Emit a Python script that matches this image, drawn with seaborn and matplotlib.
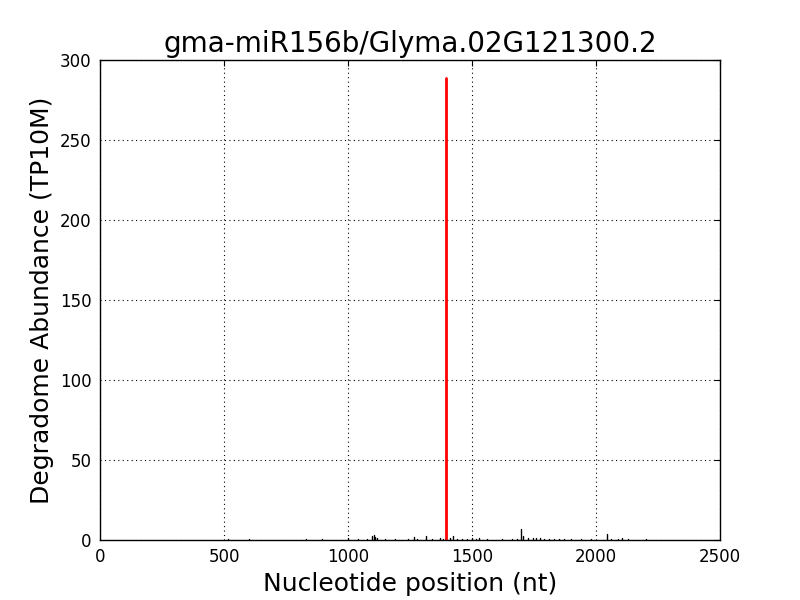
import numpy as np
import pandas as pd
import matplotlib
matplotlib.use("Agg")
import matplotlib.pyplot as plt
import seaborn as sns

# degradome reads per nucleotide (only positions with reads)
read_pos = [516, 600, 780, 830, 895, 1000, 1040, 1075, 1097, 1103, 1108, 1115,
            1150, 1190, 1240, 1266, 1280, 1315, 1340, 1371, 1385, 1410, 1423,
            1440, 1460, 1480, 1500, 1515, 1528, 1560, 1620, 1660, 1680, 1698,
            1705, 1725, 1746, 1760, 1775, 1790, 1810, 1830, 1850, 1870, 1900,
            1940, 1980, 2044, 2060, 2090, 2105, 2130, 2200, 2290]
read_val = [0.4, 0.5, 0.3, 0.4, 0.6, 1.5, 0.4, 0.8, 2.5, 3.0, 2.0, 1.2,
            0.4, 0.5, 0.6, 2.0, 0.5, 2.5, 0.4, 1.5, 0.8, 1.0, 2.5,
            0.8, 0.6, 0.7, 1.5, 0.8, 1.0, 0.4, 0.4, 0.5, 0.6, 7.0,
            2.5, 1.0, 1.5, 1.0, 1.0, 0.8, 0.8, 0.6, 0.5, 0.5, 0.4,
            0.4, 0.4, 4.0, 0.5, 0.8, 1.0, 0.4, 0.4, 0.3]

# miRNA cleavage site
cleave_pos = 1395
cleave_val = 289

title = "gma-miR156b/Glyma.02G121300.2"

sns.set_style("white")
plt.rcParams["font.family"] = ["DejaVu Sans"]
plt.rcParams["text.color"] = "black"
plt.rcParams["axes.labelcolor"] = "black"
plt.rcParams["xtick.color"] = "black"
plt.rcParams["ytick.color"] = "black"

# each read position becomes a vertical stick from 0 to its value
df = pd.DataFrame({
    "pos": np.repeat(read_pos, 2),
    "abund": np.column_stack([np.zeros(len(read_val)), read_val]).ravel(),
    "site": np.repeat(np.arange(len(read_pos)), 2),
})
cut = pd.DataFrame({"pos": [cleave_pos, cleave_pos], "abund": [0, cleave_val]})

fig, ax = plt.subplots(figsize=(8, 6), dpi=100)
fig.subplots_adjust(left=0.125, right=0.9, bottom=0.1, top=0.9)

sns.lineplot(data=df, x="pos", y="abund", units="site", estimator=None,
             ax=ax, color="black", linewidth=1, sort=False)
sns.lineplot(data=cut, x="pos", y="abund", ax=ax, color="red", linewidth=2,
             estimator=None, sort=False)

ax.set_xlim(0, 2500)
ax.set_ylim(0, 300)
ax.set_xticks(np.arange(0, 2501, 500))
ax.set_yticks(np.arange(0, 301, 50))
ax.grid(True, linestyle=(0, (1, 3)), color="black", linewidth=0.8)
ax.tick_params(direction="in", length=4, top=True, right=True, labelsize=12,
               pad=6, colors="black")
for sp in ax.spines.values():
    sp.set_color("black")
    sp.set_linewidth(1)

ax.set_title(title, fontsize=20)
ax.set_xlabel("Nucleotide position (nt)", fontsize=18)
ax.set_ylabel("Degradome Abundance (TP10M)", fontsize=18)

plt.savefig("out.png")
plt.close()
